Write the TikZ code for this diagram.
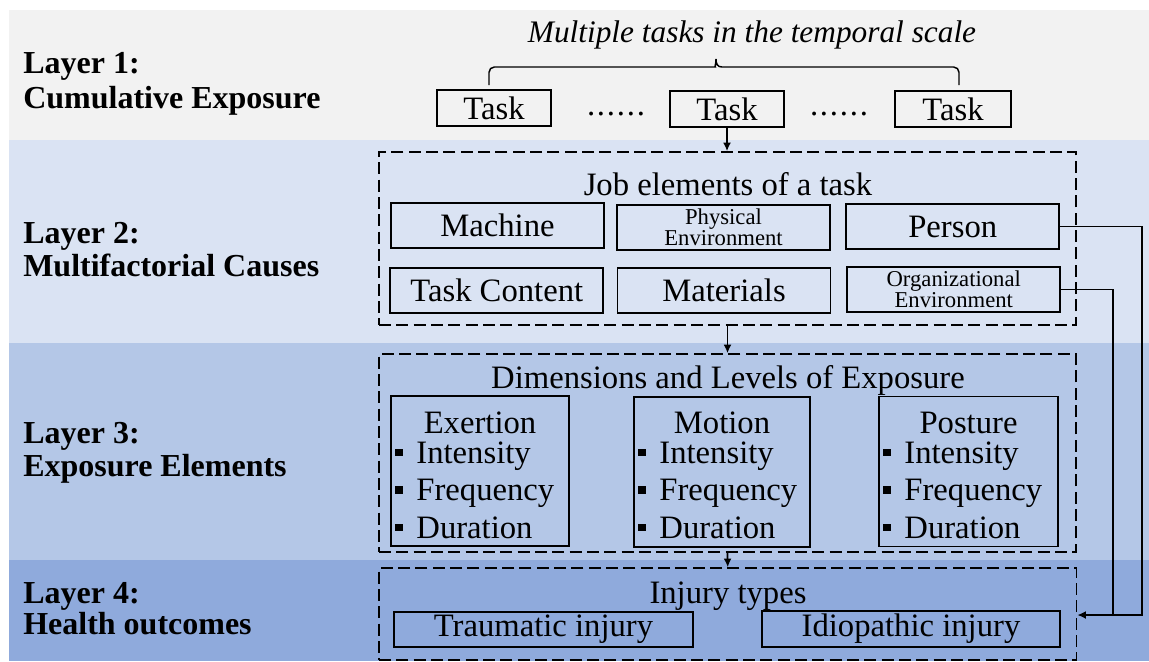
\documentclass[tikz,border=0pt]{standalone}
\usepackage{fontspec}
\setmainfont{Liberation Serif}
\usetikzlibrary{arrows.meta,calc}

\definecolor{bandA}{HTML}{F2F2F2}
\definecolor{bandB}{HTML}{DAE3F3}
\definecolor{bandC}{HTML}{B4C7E7}
\definecolor{bandD}{HTML}{8FAADC}

% one drawing unit
\newdimen\px \px=0.75pt

\tikzset{
  band/.style={fill=#1, draw=none},
  layerlabel/.style={inner sep=0pt, anchor=base west, font=\fontsize{24}{26}\selectfont\bfseries},
  plain/.style={inner sep=0pt, anchor=base, font=\fontsize{24.5}{27}\selectfont},
  boxed/.style={draw=black, line width=1.25pt, inner sep=0pt, align=center,
    font=\fontsize{24.5}{27}\selectfont},
  smallboxed/.style={boxed, font=\fontsize{17}{11.8}\selectfont},
  group/.style={draw=black, line width=1.15pt, dash pattern=on 9pt off 4pt, inner sep=0pt},
  conn/.style={draw=black, line width=1.3pt},
  arrowconn/.style={conn, -{Latex[length=6.5pt,width=6pt]}},
  brace/.style={draw=black, line width=1.1pt},
  bullet/.style={fill=black, inner sep=0pt, minimum size=5.8pt},
  item/.style={inner sep=0pt, anchor=base west, font=\fontsize{24.5}{27}\selectfont},
}

\begin{document}
\begin{tikzpicture}[x=0.75pt, y=-0.75pt]
\useasboundingbox (0,0) rectangle (1149,661);

% layer bands
\fill[band=bandA] (9,10) rectangle (1149,140);
\fill[band=bandB] (9,140) rectangle (1149,343);
\fill[band=bandC] (9,343) rectangle (1149,560);
\fill[band=bandD] (9,560) rectangle (1149,661);

% layer titles
\node[layerlabel] (l1a) at (23,73)  {Layer 1:};
\node[layerlabel] (l1b) at (23,108) {Cumulative Exposure};
\node[layerlabel] (l2a) at (23,243) {Layer 2:};
\node[layerlabel] (l2b) at (23,276) {Multifactorial Causes};
\node[layerlabel] (l3a) at (23,443) {Layer 3:};
\node[layerlabel] (l3b) at (23,476) {Exposure Elements};
\node[layerlabel] (l4a) at (23,603) {Layer 4:};
\node[layerlabel] (l4b) at (23,634) {Health outcomes};

% layer 1: tasks over time
\node[plain, font=\fontsize{23.5}{26}\selectfont\itshape] (caption) at (752,42)
  {Multiple tasks in the temporal scale};
\node[boxed, minimum width=114\px, minimum height=36\px] (task1) at (494,108) {Task};
\node[boxed, minimum width=114\px, minimum height=36\px] (task2) at (727,109) {Task};
\node[boxed, minimum width=116\px, minimum height=36\px] (task3) at (953,109) {Task};
\node[plain] (dots1) at (616,115) {\hbox to 43.5pt{.\hfil.\hfil.\hfil.\hfil.\hfil.}};
\node[plain] (dots2) at (839,115) {\hbox to 43.5pt{.\hfil.\hfil.\hfil.\hfil.\hfil.}};

\coordinate (brL) at (489,85);
\coordinate (brR) at (959,85);
\coordinate (brT) at (716,59);
\draw[brace] (brL) [rounded corners=4pt] |- (710,67) [sharp corners]
  .. controls (714.5,67) and (716,64) .. (brT)
  .. controls (716,64) and (717.5,67) .. (722,67)
  [rounded corners=4pt] -| (brR);

% layer 2: job elements
\node[group, minimum width=697\px, minimum height=173\px] (jobs) at (727.5,238.5) {};
\node[plain] (jobstitle) at (728,195) {Job elements of a task};
\node[boxed, minimum width=213\px, minimum height=45\px] (machine) at (497.5,225.5) {Machine};
\node[smallboxed, minimum width=213\px, minimum height=45\px] (physenv) at (723.5,227.5)
  {Physical\\Environment};
\node[boxed, minimum width=213\px, minimum height=45\px] (person) at (952.75,226.5) {Person};
\node[boxed, minimum width=213\px, minimum height=45\px] (content) at (496.75,290.5) {Task Content};
\node[boxed, minimum width=213\px, minimum height=45\px] (materials) at (724,290.5) {Materials};
\node[smallboxed, minimum width=213\px, minimum height=45\px] (orgenv) at (953.75,289.5)
  {Organizational\\Environment};

% layer 3: exposure dimensions
\node[group, minimum width=697\px, minimum height=198\px] (dims) at (727.5,453) {};
\node[plain] (dimstitle) at (728,388) {Dimensions and Levels of Exposure};
\node[boxed, minimum width=178\px, minimum height=150\px] (exertion) at (480,471) {};
\node[boxed, minimum width=176\px, minimum height=150\px] (motion) at (722,472) {};
\node[boxed, minimum width=179\px, minimum height=150\px] (posture) at (968.5,471.5) {};

\foreach \bx/\name/\hx in {exertion/Exertion/480, motion/Motion/722, posture/Posture/968.5}{
  \node[plain] (\bx-head) at (\hx,433) {\name};
  \foreach \lbl/\by [count=\k] in {Intensity/463, Frequency/500.5, Duration/538}{
    \path (\bx.west) ++(9,0) coordinate (\bx-b\k);
    \node[bullet] (\bx-sq\k) at (\bx-b\k |- 0,\by-10.5) {};
    \node[item] (\bx-it\k) at ($(\bx.west |- 0,\by)+(26,0)$) {\lbl};
  }
}

% layer 4: outcomes
\node[group, minimum width=697.5\px, minimum height=92\px] (injury) at (727.75,614) {};
\node[plain] (injtitle) at (728,603) {Injury types};
\node[boxed, minimum width=299\px, minimum height=35\px] (trauma) at (543.5,629.5) {Traumatic injury};
\node[boxed, minimum width=298\px, minimum height=36\px] (idio) at (911,629) {Idiopathic injury};

% connectors
\draw[arrowconn] (task2.south) -- (task2.south |- jobs.north);
\draw[arrowconn] (jobs.south) -- (dims.north);
\draw[arrowconn] (dims.south) -- (injury.north);

\coordinate (busA) at (1141.7,615);
\coordinate (busB) at (1112.7,615);
\draw[conn] (orgenv.east) -| (busB);
\draw[arrowconn] (person.east) -| (busA) -- (busA -| injury.east);
\end{tikzpicture}
\end{document}
